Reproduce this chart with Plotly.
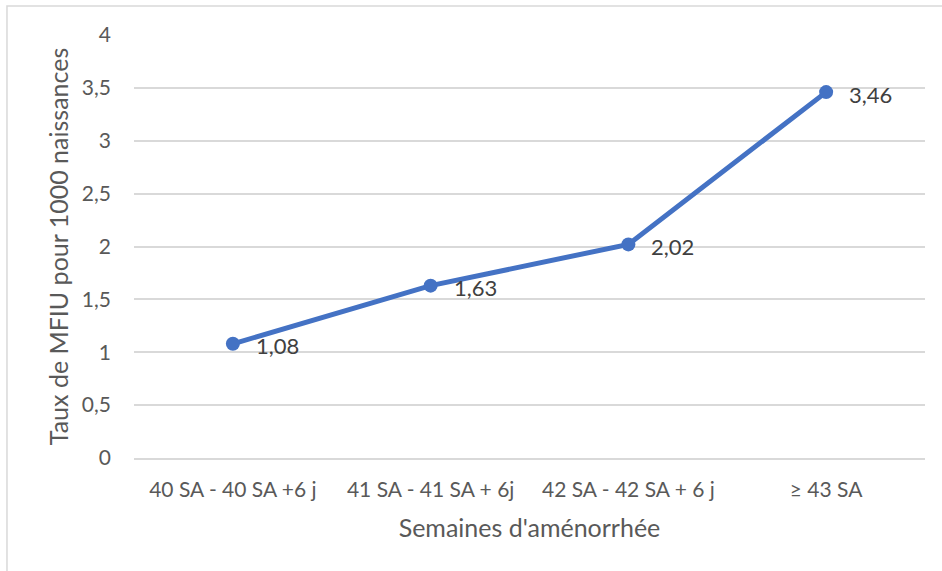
import plotly.graph_objects as go

categories = ["40 SA - 40 SA +6 j", "41 SA - 41 SA + 6j", "42 SA - 42 SA + 6 j", "≥ 43 SA"]
values = [1.08, 1.63, 2.02, 3.46]
y_ticks = [0, 0.5, 1, 1.5, 2, 2.5, 3, 3.5, 4]
x_title = "Semaines d'aménorrhée"
y_title = "Taux de MFIU pour 1000 naissances"

FONT = "Lato"
fig = go.Figure()
fig.add_trace(go.Scatter(
    x=categories, y=values, mode="lines+markers",
    line=dict(color="#4472C4", width=5),
    marker=dict(color="#4472C4", size=14),
    hoverinfo="skip", showlegend=False,
))
for c, v in zip(categories, values):
    fig.add_annotation(x=c, y=v, text=f"{v:.2f}".replace(".", ","),
                       showarrow=False, xanchor="left", yanchor="middle",
                       xshift=21, yshift=-2,
                       font=dict(family=FONT, size=22, color="#404040"))

fig.add_shape(type="rect", xref="paper", yref="paper",
              x0=-0.1606, x1=1.1, y0=-0.3, y1=1.0686,
              line=dict(color="#D9D9D9", width=1.5), fillcolor="rgba(0,0,0,0)", layer="below")

fig.update_layout(
    width=942, height=571,
    margin=dict(l=134, r=17, t=35, b=113),
    paper_bgcolor="white", plot_bgcolor="white",
    separators=", ",
    font=dict(family=FONT, color="#595959", size=21),
    xaxis=dict(type="category", range=[-0.5, 3.5], showgrid=False,
               showline=True, linecolor="#D9D9D9", linewidth=1.5,
               ticks="", ticklabelstandoff=12,
               tickfont=dict(family=FONT, size=21, color="#595959"),
               title=dict(text=x_title, standoff=20,
                          font=dict(family=FONT, size=25, color="#595959"))),
    yaxis=dict(range=[0, 4], tickvals=y_ticks, showgrid=True,
               gridcolor="#D9D9D9", gridwidth=1.5, zeroline=False,
               showline=False, ticks="", ticklabelstandoff=22,
               tickfont=dict(family=FONT, size=21, color="#595959"),
               title=dict(text=y_title, standoff=6,
                          font=dict(family=FONT, size=25, color="#595959"))),
)
fig.write_html("out.html", config={"displayModeBar": False},
               post_script="document.body.style.margin='0';document.body.style.overflow='hidden';")
